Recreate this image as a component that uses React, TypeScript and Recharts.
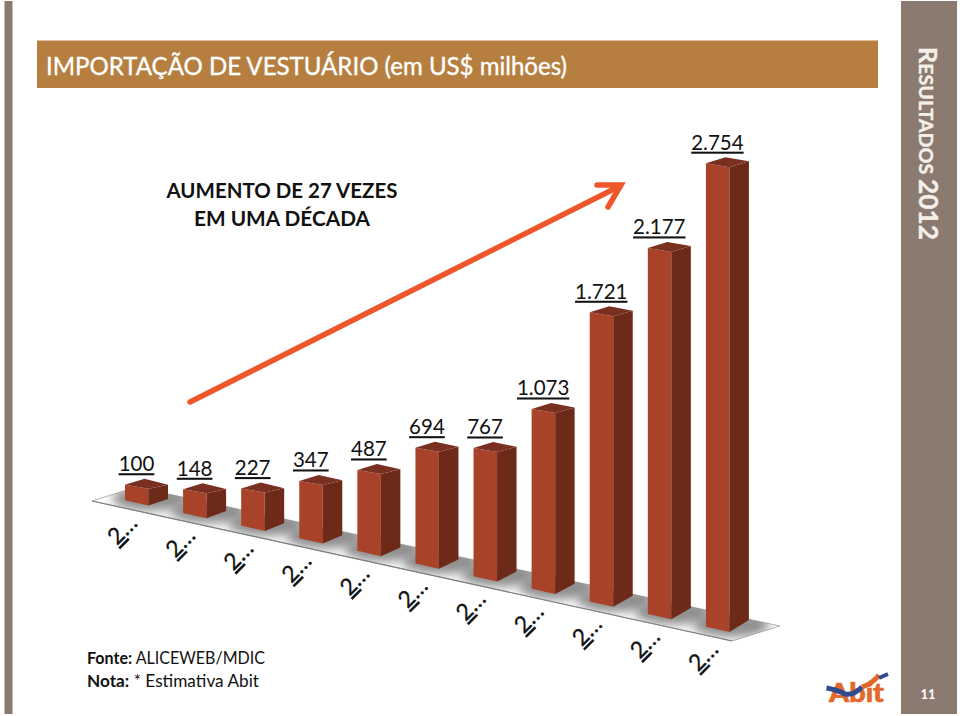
import { Bar, BarChart, LabelList, XAxis, YAxis } from "recharts";

const years = ["2002", "2003", "2004", "2005", "2006", "2007", "2008", "2009", "2010", "2011", "2012"];
const imports = [100, 148, 227, 347, 487, 694, 767, 1073, 1721, 2177, 2754];
const rows = years.map((year, i) => ({ year, value: imports[i] }));

const FONT = "Lato, sans-serif";
// the floor runs downhill to the right in the 3D view, so each category sits lower
const DROP = 12.64;
const FLOOR = "92,501 136,487 780,626 732,641";

const formatValue = (v: number) => String(v).replace(/\B(?=(\d{3})+$)/, ".");

function Box3D(props: any) {
  const { x, y, width, height, index } = props;
  const split = x + 23.5;
  const right = x + width;
  const top = y + index * DROP;
  const base = top + height;
  const bl = base - 5.3;
  const br = base - 6.6 - 0.54 * index;
  const tl = top - 4;
  const tr = top - 4 - 0.2 * index;
  const apex = top - 10;
  return (
    <g>
      <g clipPath="url(#floorClip)">
        <ellipse cx={split + 2} cy={base - 7} rx={38} ry={12} fill="#7c7c7c" opacity={0.85} filter="url(#soft)" />
      </g>
      <polygon points={`${x},${tl} ${split},${top} ${split},${base} ${x},${bl}`} fill="#a8432a" />
      <polygon points={`${split},${top} ${right},${tr} ${right},${br} ${split},${base}`} fill="#6d2a19" />
      <polygon points={`${x},${tl} ${split - 4},${apex} ${right},${tr} ${split},${top}`} fill="#7a3020" />
    </g>
  );
}

function ValueLabel(props: any) {
  const { x, y, width, value, index } = props;
  return (
    <text
      x={x + width / 2 - 10}
      y={y + index * DROP - 17.5}
      textAnchor="middle"
      fontFamily={FONT}
      fontSize={20.5}
      fill="#111"
      textDecoration="underline"
    >
      {formatValue(Number(value))}
    </text>
  );
}

function YearTick(props: any) {
  const { x, y, payload, index } = props;
  return (
    <g transform={`translate(${x - 29},${y + 38.5 + index * DROP}) rotate(-45)`}>
      <text fontFamily={FONT} fontSize={23} fill="#111" stroke="#111" strokeWidth={0.3}>
        <tspan textDecoration="underline">{String(payload.value).charAt(0)}</tspan>
        <tspan>…</tspan>
      </text>
    </g>
  );
}

function Backdrop() {
  return (
    <svg width={960} height={716} style={{ position: "absolute", left: 0, top: 0 }}>
      <rect x={4.5} y={1} width={8} height={713} fill="#8a7a70" />
      <rect x={901} y={1} width={56} height={713} fill="#8a7a70" />
      <rect x={37} y={40.5} width={841} height={47.5} fill="#b67f40" />
      <text
        x={46}
        y={74.5}
        fontFamily={FONT}
        fontSize={25.5}
        fill="#fff"
        stroke="#fff"
        strokeWidth={0.35}
        textLength={521}
        lengthAdjust="spacingAndGlyphs"
      >
        IMPORTAÇÃO DE VESTUÁRIO (em US$ milhões)
      </text>
      <g fontFamily={FONT} fontSize={21.5} fontWeight={700} fill="#111" textAnchor="middle">
        <text x={282} y={198} textLength={231} lengthAdjust="spacingAndGlyphs">AUMENTO DE 27 VEZES</text>
        <text x={282} y={226} textLength={176} lengthAdjust="spacingAndGlyphs">EM UMA DÉCADA</text>
      </g>
      <g stroke="#f0562b" strokeWidth={5.5} fill="none" strokeLinecap="round" strokeLinejoin="miter">
        <line x1={190} y1={402} x2={618} y2={187} />
        <polyline points="597,185 621,185 608,207" />
      </g>
      <polygon points={FLOOR} fill="#fbfbfb" stroke="#b4b4b4" strokeWidth={1} />
      <polyline points="92,501 732,641" fill="none" stroke="#808080" strokeWidth={1.2} />
      <text
        transform="translate(919,47) rotate(90)"
        fontFamily={FONT}
        fontWeight={700}
        fontSize={19.5}
        fill="#f4efe9"
        stroke="#f4efe9"
        strokeWidth={0.4}
        textLength={193}
        lengthAdjust="spacingAndGlyphs"
      >
        <tspan fontSize={25}>R</tspan>ESULTADOS <tspan fontSize={26}>2012</tspan>
      </text>
      <text x={928} y={699} fontFamily={FONT} fontSize={13} fontWeight={700} fill="#fff" textAnchor="middle">11</text>
      <g fontFamily={FONT} fontSize={17} fill="#111">
        <text x={87} y={664} textLength={178} lengthAdjust="spacingAndGlyphs">
          <tspan fontWeight={700}>Fonte:</tspan> ALICEWEB/MDIC
        </text>
        <text x={87} y={687} textLength={172} lengthAdjust="spacingAndGlyphs">
          <tspan fontWeight={700}>Nota:</tspan> * Estimativa Abit
        </text>
      </g>
      <text x={829} y={702} fontFamily={FONT} fontSize={26} fontWeight={900} fill="#e2692b" stroke="#e2692b" strokeWidth={0.6} textLength={55} lengthAdjust="spacingAndGlyphs">Abit</text>
      <path d="M826.5,688 Q838,690 845,694 Q853,696 862,687" stroke="#2f4a8e" strokeWidth={5} fill="none" />
      <path d="M862,687 Q872,684 879,675" stroke="#e2692b" strokeWidth={5} fill="none" />
      <path d="M879,678 L888,674" stroke="#2f4a8e" strokeWidth={4} fill="none" />
    </svg>
  );
}

export default function App() {
  return (
    <div style={{ position: "absolute", left: 0, top: 0, width: 960, height: 716, background: "#fff" }}>
      <Backdrop />
      <div style={{ position: "absolute", left: 0, top: 0 }}>
        <BarChart width={960} height={716} data={rows} margin={{ top: 33, right: 204, bottom: 180.4, left: 117 }}>
          <defs>
            <filter id="soft" x="-50%" y="-100%" width="200%" height="300%">
              <feGaussianBlur stdDeviation="5" />
            </filter>
            <clipPath id="floorClip" clipPathUnits="userSpaceOnUse">
              <polygon points={FLOOR} />
            </clipPath>
          </defs>
          <XAxis dataKey="year" height={30} axisLine={false} tickLine={false} tickSize={0} interval={0} tick={<YearTick />} />
          <YAxis hide domain={[0, 2800]} />
          <Bar dataKey="value" barSize={43} shape={<Box3D />} isAnimationActive={false}>
            <LabelList dataKey="value" content={<ValueLabel />} />
          </Bar>
        </BarChart>
      </div>
    </div>
  );
}
